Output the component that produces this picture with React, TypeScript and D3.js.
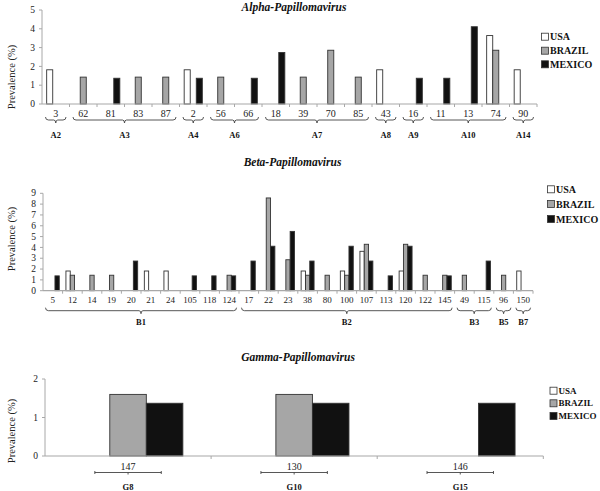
import React from 'react';
import * as d3 from 'd3';

const seriesNames = ['USA', 'BRAZIL', 'MEXICO'];
const seriesFill = ['#ffffff', '#a6a6a6', '#111111'];

const alphaCats = ['3', '62', '81', '83', '87', '2', '56', '66', '18', '39', '70', '85', '43', '16', '11', '13', '74', '90'];
const alphaUSA = [1.82, 0, 0, 0, 0, 1.82, 0, 0, 0, 0, 0, 0, 1.82, 0, 0, 0, 3.64, 1.82];
const alphaBrazil = [0, 1.43, 0, 1.43, 1.43, 0, 1.43, 0, 0, 1.43, 2.86, 1.43, 0, 0, 0, 0, 2.86, 0];
const alphaMexico = [0, 0, 1.37, 0, 0, 1.37, 0, 1.37, 2.74, 0, 0, 0, 0, 1.37, 1.37, 4.11, 0, 0];
const alphaGroupLabels = ['A2', 'A3', 'A4', 'A6', 'A7', 'A8', 'A9', 'A10', 'A14'];
const alphaGroupSpans = [[0, 0], [1, 4], [5, 5], [6, 7], [8, 11], [12, 12], [13, 13], [14, 16], [17, 17]];
const alphaTicks = [0, 1, 2, 3, 4, 5];

const betaCats = ['5', '12', '14', '19', '20', '21', '24', '105', '118', '124', '17', '22', '23', '38', '80', '100', '107', '113', '120', '122', '145', '49', '115', '96', '150'];
const betaUSA = [0, 1.82, 0, 0, 0, 1.82, 1.82, 0, 0, 0, 0, 0, 0, 1.82, 0, 1.82, 3.64, 0, 1.82, 0, 0, 0, 0, 0, 1.82];
const betaBrazil = [0, 1.43, 1.43, 1.43, 0, 0, 0, 0, 0, 1.43, 0, 8.57, 2.86, 1.43, 1.43, 1.43, 4.29, 0, 4.29, 1.43, 1.43, 1.43, 0, 1.43, 0];
const betaMexico = [1.37, 0, 0, 0, 2.74, 0, 0, 1.37, 1.37, 1.37, 2.74, 4.11, 5.48, 2.74, 0, 4.11, 2.74, 1.37, 4.11, 0, 1.37, 0, 2.74, 0, 0];
const betaGroupLabels = ['B1', 'B2', 'B3', 'B5', 'B7'];
const betaGroupSpans = [[0, 9], [10, 20], [21, 22], [23, 23], [24, 24]];
const betaTicks = [0, 1, 2, 3, 4, 5, 6, 7, 8, 9];

const gammaCats = ['147', '130', '146'];
const gammaUSA = [0, 0, 0];
const gammaBrazil = [1.6, 1.6, 0];
const gammaMexico = [1.37, 1.37, 1.37];
const gammaGroupLabels = ['G8', 'G10', 'G15'];
const gammaGroupSpans = [[0, 0], [1, 1], [2, 2]];
const gammaTicks = [0, 1, 2];

const FONT = '"Liberation Serif", "Times New Roman", serif';

type PanelProps = {
  title: string;
  titleX: number;
  titleY: number;
  cats: string[];
  series: number[][];
  groupLabels: string[];
  groupSpans: number[][];
  ticks: number[];
  x0: number;
  x1: number;
  yBase: number;
  yTop: number;
  catLabelY: number;
  catFont: number;
  bracketY: number;
  groupLabelY: number;
  bracketMode: 'curly' | 'short';
  bracketInset: number;
  legendX: number;
  legendYs: number[];
  legendFont: number;
  ylabelY: number;
};

function curly(x1: number, x2: number, y: number) {
  const m = (x1 + x2) / 2;
  return `M${x1},${y - 3} Q${x1},${y} ${x1 + 3},${y} L${m - 2},${y} Q${m},${y} ${m},${y + 3} Q${m},${y} ${m + 2},${y} L${x2 - 3},${y} Q${x2},${y} ${x2},${y - 3}`;
}
function shortB(x1: number, x2: number, y: number) {
  const m = (x1 + x2) / 2;
  return `M${x1},${y - 1.5} L${x1},${y + 1.5} M${x1},${y} L${x2},${y} M${x2},${y - 1.5} L${x2},${y + 1.5} M${m},${y} L${m},${y + 2}`;
}

function Panel(p: PanelProps) {
  const x = d3.scaleBand<string>().domain(p.cats).range([p.x0, p.x1]).paddingInner(0).paddingOuter(0);
  const w = x.bandwidth();
  const xs = d3.scaleBand<string>().domain(seriesNames).range([w * 0.17, w * 0.83]).padding(0);
  const yMax = p.ticks[p.ticks.length - 1];
  const y = d3.scaleLinear().domain([0, yMax]).range([p.yBase, p.yTop]);
  const axisColor = '#a8a8a8';
  return (
    <g>
      <text x={p.titleX} y={p.titleY} textAnchor="middle" fontFamily={FONT} fontWeight="bold" fontStyle="italic" fontSize={11.5} fill="#111">{p.title}</text>
      <text transform={`translate(15,${p.ylabelY}) rotate(-90)`} textAnchor="middle" fontFamily={FONT} fontSize={10.5} fill="#222">Prevalence (%)</text>
      <line x1={p.x0} x2={p.x0} y1={p.yBase} y2={p.yTop} stroke={axisColor} />
      {p.ticks.map((t) => (
        <g key={'yt' + t}>
          <line x1={p.x0 - 3} x2={p.x0} y1={y(t)} y2={y(t)} stroke={axisColor} />
          <text x={p.x0 - 7} y={y(t)} dy="0.33em" textAnchor="end" fontFamily={FONT} fontSize={9.5} fill="#222">{t}</text>
        </g>
      ))}
      {p.cats.map((c, i) => (
        <g key={'c' + i}>
          {p.series.map((s, k) =>
            s[i] > 0 ? (
              <rect key={k} x={(x(c) as number) + (xs(seriesNames[k]) as number)} y={y(s[i])} width={xs.bandwidth()} height={p.yBase - y(s[i])} fill={seriesFill[k]} stroke="#333" strokeWidth={0.9} />
            ) : null
          )}
        </g>
      ))}
      <line x1={p.x0} x2={p.x1} y1={p.yBase} y2={p.yBase} stroke={axisColor} strokeWidth={1.2} />
      {p.cats.map((c, i) => (
        <line key={'xt' + i} x1={(x(c) as number) + w} x2={(x(c) as number) + w} y1={p.yBase} y2={p.yBase + 3} stroke={axisColor} />
      ))}
      {p.cats.map((c) => (
        <text key={'cl' + c} x={(x(c) as number) + w / 2} y={p.catLabelY} textAnchor="middle" fontFamily={FONT} fontSize={p.catFont} fill="#222">{c}</text>
      ))}
      {p.groupLabels.map((g, i) => {
        const [a, b] = p.groupSpans[i];
        let bx1 = (x(p.cats[a]) as number) + p.bracketInset;
        let bx2 = (x(p.cats[b]) as number) + w - p.bracketInset;
        const m = (bx1 + bx2) / 2;
        if (p.bracketMode === 'short') {
          bx1 = m - w * 0.2;
          bx2 = m + w * 0.2;
        }
        return (
          <g key={'g' + g}>
            <path d={p.bracketMode === 'curly' ? curly(bx1, bx2, p.bracketY) : shortB(bx1, bx2, p.bracketY)} fill="none" stroke="#444" strokeWidth={0.9} />
            <text x={m} y={p.groupLabelY} textAnchor="middle" fontFamily={FONT} fontWeight="bold" fontSize={8.5} fill="#111">{g}</text>
          </g>
        );
      })}
      {seriesNames.map((n, k) => (
        <g key={'lg' + n}>
          <rect x={p.legendX} y={p.legendYs[k] - 3.5} width={7} height={7} fill={seriesFill[k]} stroke="#333" strokeWidth={0.8} />
          <text x={p.legendX + 8.5} y={p.legendYs[k]} dy="0.35em" fontFamily={FONT} fontWeight="bold" fontSize={p.legendFont} fill="#111">{n}</text>
        </g>
      ))}
    </g>
  );
}

export default function App() {
  return (
    <svg width={600} height={491} style={{ position: 'absolute', left: 0, top: 0, background: '#fff' }}>
      <rect width={600} height={491} fill="#fff" />
      <Panel
        title="Alpha-Papillomavirus" titleX={294} titleY={11}
        cats={alphaCats} series={[alphaUSA, alphaBrazil, alphaMexico]}
        groupLabels={alphaGroupLabels} groupSpans={alphaGroupSpans} ticks={alphaTicks}
        x0={42} x1={537} yBase={104} yTop={10}
        catLabelY={117} catFont={10} bracketY={120} groupLabelY={137.5}
        bracketMode="curly" bracketInset={3.5}
        legendX={541.5} legendYs={[36.7, 50.7, 64.3]} legendFont={10} ylabelY={77}
      />
      <Panel
        title="Beta-Papillomavirus" titleX={292.5} titleY={166}
        cats={betaCats} series={[betaUSA, betaBrazil, betaMexico]}
        groupLabels={betaGroupLabels} groupSpans={betaGroupSpans} ticks={betaTicks}
        x0={43} x1={533} yBase={290.7} yTop={193.3}
        catLabelY={303} catFont={9} bracketY={310.7} groupLabelY={324.5}
        bracketMode="curly" bracketInset={2.5}
        legendX={547.5} legendYs={[189.3, 204, 219]} legendFont={10} ylabelY={239}
      />
      <Panel
        title="Gamma-Papillomavirus" titleX={298} titleY={361}
        cats={gammaCats} series={[gammaUSA, gammaBrazil, gammaMexico]}
        groupLabels={gammaGroupLabels} groupSpans={gammaGroupSpans} ticks={gammaTicks}
        x0={45} x1={543.3} yBase={456} yTop={379}
        catLabelY={469.5} catFont={10} bracketY={472.5} groupLabelY={489.5}
        bracketMode="short" bracketInset={0}
        legendX={550} legendYs={[390.7, 403.3, 416]} legendFont={9} ylabelY={431}
      />
    </svg>
  );
}
